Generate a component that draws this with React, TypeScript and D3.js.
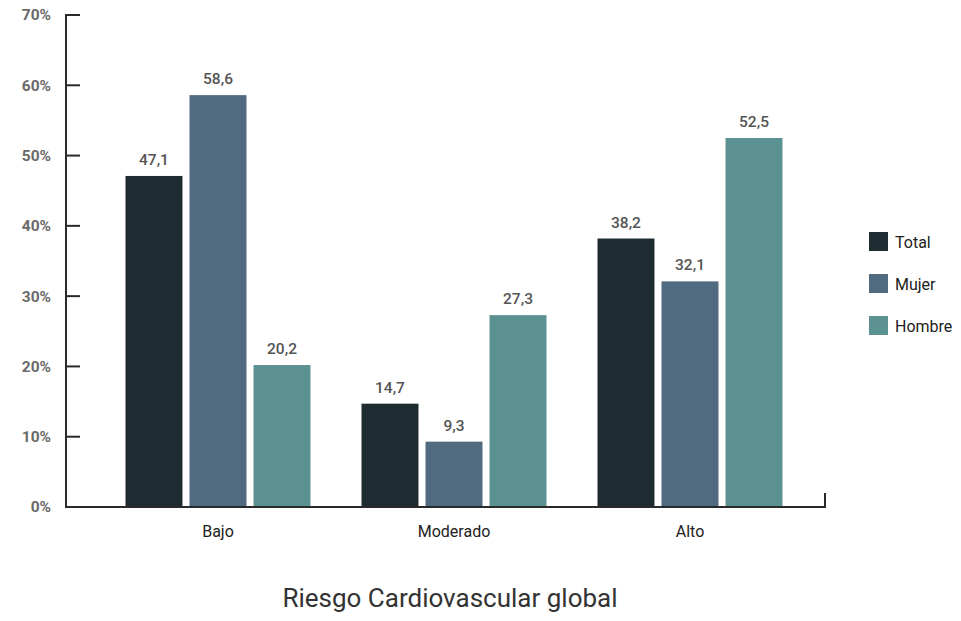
import React from "react";
import * as d3 from "d3";

const categories = ["Bajo", "Moderado", "Alto"];
const seriesNames = ["Total", "Mujer", "Hombre"];
const totalValues = [47.1, 14.7, 38.2];
const mujerValues = [58.6, 9.3, 32.1];
const hombreValues = [20.2, 27.3, 52.5];
const yTicks = [0, 10, 20, 30, 40, 50, 60, 70];
const colors = ["#1e2c32", "#506a80", "#5c9191"];
const xTitle = "Riesgo Cardiovascular global";

const seriesValues = [totalValues, mujerValues, hombreValues];

export default function App() {
  const W = 961;
  const H = 621;
  const axisX = 66;
  const axisEnd = 825;
  const y = d3.scaleLinear().domain([0, 70]).range([507, 15]);
  const x0 = d3.scaleBand<string>().domain(categories).range([100, 808]).padding(0);
  const x1 = d3
    .scaleBand<string>()
    .domain(seriesNames)
    .range([25.5, 210.5])
    .paddingInner(0.11)
    .paddingOuter(0);
  const fmt = (v: number) => v.toFixed(1).replace(".", ",");
  const font = "Roboto, 'Liberation Sans', sans-serif";

  return (
    <svg
      width={W}
      height={H}
      style={{ position: "absolute", left: 0, top: 0, background: "#fff" }}
      fontFamily={font}
    >
      {/* bars */}
      {categories.map((c, ci) => (
        <g key={c} transform={`translate(${x0(c)},0)`}>
          {seriesNames.map((s, si) => {
            const v = seriesValues[si][ci];
            const bx = x1(s)!;
            const bw = x1.bandwidth();
            return (
              <g key={s}>
                <rect
                  x={bx}
                  y={y(v)}
                  width={bw}
                  height={y(0) - y(v)}
                  fill={colors[si]}
                />
                <text
                  x={bx + bw / 2}
                  y={y(v) - 11}
                  textAnchor="middle"
                  fontSize={15.5}
                  fontWeight={500}
                  fill="#555"
                >
                  {fmt(v)}
                </text>
              </g>
            );
          })}
          <text
            x={x0.bandwidth() / 2}
            y={537}
            textAnchor="middle"
            fontSize={16}
            fill="#222"
          >
            {c}
          </text>
        </g>
      ))}

      {/* y axis */}
      <line x1={axisX} x2={axisX} y1={y(70) - 1} y2={y(0) + 1} stroke="#2a2a2a" strokeWidth={2} />
      {yTicks.map((t) => (
        <g key={t}>
          {t > 0 && (
            <line x1={axisX} x2={axisX + 14} y1={y(t)} y2={y(t)} stroke="#2a2a2a" strokeWidth={2} />
          )}
          <text
            x={51}
            y={y(t)}
            dy="0.35em"
            textAnchor="end"
            fontSize={15.5}
            fontWeight={700}
            fill="#6a6a6a"
          >
            {t}%
          </text>
        </g>
      ))}

      {/* x axis */}
      <line x1={axisX - 1} x2={axisEnd} y1={y(0)} y2={y(0)} stroke="#2a2a2a" strokeWidth={2} />
      <line x1={axisEnd} x2={axisEnd} y1={y(0) + 1} y2={y(0) - 14} stroke="#2a2a2a" strokeWidth={2} />

      {/* legend */}
      {seriesNames.map((s, i) => (
        <g key={s} transform={`translate(869, ${232 + i * 42})`}>
          <rect x={0} y={0} width={19} height={19} fill={colors[i]} />
          <text x={26} y={10} dy="0.35em" fontSize={16} fill="#222">
            {s}
          </text>
        </g>
      ))}

      {/* title */}
      <text x={450} y={607} textAnchor="middle" fontSize={26} fill="#333">
        {xTitle}
      </text>
    </svg>
  );
}
